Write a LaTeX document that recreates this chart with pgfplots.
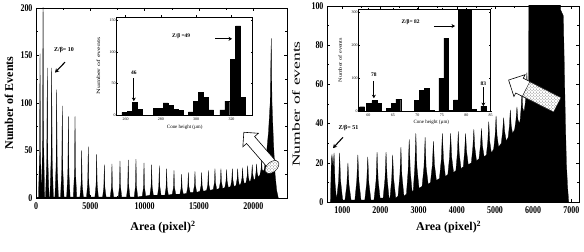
\documentclass[border=0pt]{standalone}
\usepackage{fontspec}
\setmainfont{Liberation Serif}
\usepackage{pgfplots}
\pgfplotsset{compat=1.18}
\usetikzlibrary{patterns,shapes.arrows,arrows.meta}
\begin{document}
\begin{tikzpicture}
\useasboundingbox (0bp,0bp) rectangle (584bp,252bp);
\pgfplotsset{
  main/.style={
    scale only axis, anchor=south west,
    axis line style={line width=0.8pt},
    every tick/.style={black, line width=0.6pt},
    major tick length=3bp, minor tick length=1.8bp,
    tick align=inside,
    /pgf/number format/assume math mode=true,
    /pgf/number format/1000 sep={},
    scaled ticks=false,
    ticklabel style={font=\bfseries\fontsize{8}{9}\selectfont, yscale=1.3},
    label style={font=\bfseries\fontsize{12}{14}\selectfont},
    minor x tick num=1, minor y tick num=1,
  },
  inset/.style={
    scale only axis, anchor=south west,
    axis background/.style={fill=white},
    axis line style={line width=0.5pt},
    every tick/.style={black, line width=0.4pt},
    major tick length=1.5bp, minor tick length=0.8bp,
    tick align=inside,
    /pgf/number format/assume math mode=true,
    ticklabel style={font=\fontsize{4}{5}\selectfont, inner sep=1pt},
    label style={font=\fontsize{5}{6}\selectfont},
    ybar, ymin=0,
  },
}
% ---------------- left main ----------------
\begin{axis}[main, at={(36bp,54bp)}, width=251bp, height=190bp,
  xmin=0, xmax=23100, ymin=0, ymax=200,
  xtick={0,5000,10000,15000,20000}, ytick={0,50,100,150,200},
  xlabel={Area (pixel)\textsuperscript{2}}, ylabel={Number of Events},
  xlabel style={at={(axis description cs:0.506,-0.153)}, anchor=center},
  ylabel style={at={(axis description cs:-0.108,0.5)}, anchor=center},
]
\addplot[fill=black, draw=black, line width=0.25pt] coordinates {
(0,0)(230,1)(325,46)(370,152)(415,46)(510,1)
(520,1)(605,65)(650,215)(695,65)(790,1)
(880,1)(990,41)(1040,137)(1090,41)(1200,1)
(1280,1)(1390,41)(1440,137)(1490,41)(1600,1)
(1740,1)(1850,34)(1900,114)(1950,34)(2060,1)
(2260,1)(2370,29)(2420,97)(2470,29)(2580,1)
(2820,1)(2930,26)(2980,86)(3030,26)(3140,1)
(3430,1)(3540,26)(3590,86)(3640,26)(3750,1)
(4040,1)(4150,15)(4200,50)(4250,15)(4360,1)
(4650,1)(4760,16)(4810,54)(4860,16)(4970,1)
(5420,1)(5530,14)(5580,46)(5630,14)(5740,1)
(6130,1)(6240,11)(6290,35)(6340,11)(6450,1)
(6830,1)(6940,11)(6990,36)(7040,11)(7150,1)
(7570,1)(7680,12)(7730,39)(7780,12)(7890,1)
(8330,1)(8440,12)(8490,40)(8540,12)(8650,1)
(9040,1)(9150,12)(9200,41)(9250,12)(9360,1)
(9780,2)(9890,11)(9940,37)(9990,11)(10100,2)
(10480,3)(10590,12)(10640,35)(10690,12)(10800,3)
(11190,3)(11300,12)(11350,34)(11400,12)(11510,3)
(11860,3)(11970,11)(12020,31)(12070,11)(12180,3)
(12540,4)(12650,11)(12700,29)(12750,11)(12860,4)
(13240,4)(13350,10)(13400,25)(13450,10)(13560,4)
(13860,5)(13970,12)(14020,27)(14070,12)(14180,6)
(14470,6)(14580,13)(14630,28)(14680,13)(14790,6)
(15080,7)(15190,13)(15240,27)(15290,13)(15400,7)
(15700,8)(15810,14)(15860,29)(15910,14)(16020,8)
(16310,9)(16420,16)(16470,31)(16520,16)(16630,9)
(16860,10)(16970,17)(17020,31)(17070,17)(17180,10)
(17380,11)(17490,18)(17540,30)(17590,18)(17700,11)
(17910,12)(18020,19)(18070,31)(18120,19)(18230,12)
(18400,13)(18510,20)(18560,31)(18610,20)(18720,13)
(18850,15)(18960,21)(19010,32)(19060,21)(19170,15)
(19320,16)(19430,23)(19480,34)(19530,23)(19640,17)
(19750,18)(19850,25)(19900,35)(19950,25)(20060,19)
(20160,20)(20250,27)(20300,36)(20350,27)(20450,22)
(20600,24)(20710,30)(20760,40)(20810,30)(20900,28)
(21000,30)(21200,45)(21400,70)(21550,100)(21650,168)(21720,100)(21850,60)(22000,25)(22150,8)(22300,0)
} \closedcycle;
\node[font=\bfseries\fontsize{6}{7}\selectfont] at (axis cs:2580,156) {Z/β= 10};
\draw[line width=1.1pt, -{Stealth[length=4bp,width=4.5bp]}] (axis cs:2670,143) -- (axis cs:1750,132);
\end{axis}
% ---------------- left inset ----------------
\begin{axis}[inset, at={(116.7bp,137bp)}, width=136bp, height=98bp,
  xmin=255, xmax=332, ymax=155, bar width=2.8,
  xtick={260,280,300,320}, ytick={0,50,100,150},
  xlabel={Cone height (µm)}, ylabel={Number of events},
  xlabel style={at={(axis description cs:0.5,-0.13)}, anchor=center},
  ylabel style={at={(axis description cs:-0.134,0.5)}, anchor=center, xscale=1.6},
]
\addplot[fill=black, draw=black] coordinates {
(259.4,4)(262.3,6)(265.1,20)(267.9,9)
(277.1,10)(279.9,11)(282.7,19)(285.5,15)(288.4,9)(291.2,7)
(297,5)(299.8,22)(302.6,36)(305.4,28)(308.5,8)
(314.8,8)(317.6,22)(320.7,88)(323.7,141)(326.5,28)
};
\node[font=\bfseries\fontsize{5.5}{6}\selectfont] at (axis cs:291.5,125) {Z/β =49};
\draw[line width=1pt, -{Stealth[length=3.5bp,width=4bp]}] (axis cs:310.7,120.5) -- (axis cs:320.3,120.5);
\node[font=\bfseries\fontsize{5.5}{6}\selectfont] at (axis cs:264.7,67) {46};
\draw[line width=1pt, -{Stealth[length=3.5bp,width=4bp]}] (axis cs:264.7,58) -- (axis cs:264.7,22);
\end{axis}
% ---------------- right main ----------------
\begin{axis}[main, at={(327bp,50bp)}, width=252bp, height=196bp,
  xmin=600, xmax=7200, ymin=0, ymax=100,
  xtick={1000,2000,3000,4000,5000,6000,7000}, ytick={0,20,40,60,80,100},
  xlabel={Area (pixel)\textsuperscript{2}}, ylabel={Number of events},
  xlabel style={at={(axis description cs:0.483,-0.128)}, anchor=center},
  ylabel style={at={(axis description cs:-0.123,0.5)}, anchor=center,
    font=\fontsize{11}{13}\selectfont, xscale=1.6},
]
\addplot[fill=black, draw=black, line width=0.25pt] coordinates {
(690,0)(715,22)(730,24)(760,18)(785,25)(810,10)(850,1)
(905,11)(930,25)(955,11)(1010,1)
(1070,1)(1120,9)(1148,20)(1175,9)(1230,1)
(1330,1)(1380,11)(1408,24)(1435,11)(1490,1)
(1590,1)(1640,10)(1668,23)(1695,10)(1750,1)
(1830,1)(1885,11)(1911,25.5)(1940,11)(1990,2)
(2070,2)(2120,12)(2146,25.5)(2175,12)(2225,2)
(2250,2)(2295,12)(2320,24)(2345,12)(2400,2)
(2460,3)(2510,14)(2536,28)(2560,14)(2615,3)
(2680,4)(2725,16)(2753,32)(2780,16)(2830,5)
(2860,6)(2900,18)(2927,35)(2955,18)(3010,7)
(3090,8)(3140,18)(3170,33)(3195,18)(3250,9)
(3310,10)(3360,19)(3387,31)(3415,19)(3465,11)
(3545,12)(3595,22)(3621,35)(3650,22)(3700,13)
(3765,14)(3810,23)(3838,35)(3865,23)(3915,15)
(3975,16)(4015,25)(4038,36)(4062,25)(4110,17)
(4170,18)(4205,26)(4229,35)(4255,26)(4300,19)
(4380,20)(4420,28)(4446,37)(4470,28)(4515,21)
(4580,22)(4620,29)(4646,37.5)(4670,29)(4715,23)
(4775,24)(4812,31)(4837,41)(4862,31)(4905,25)
(4965,27)(5003,34)(5028,44)(5053,34)(5095,28)
(5165,30)(5200,36)(5227,43)(5252,36)(5295,31)
(5345,33)(5378,39)(5401,47)(5425,39)(5460,35)
(5515,37)(5550,42)(5575,48.5)(5600,42)(5640,40)
(5660,42)(5685,48)(5705,58)(5725,48)(5760,46)
(5790,50)(5815,55)(5835,66)(5855,55)(5870,55)
(5880,60)(5890,130)(6700,130)(6720,98)(6790,95)(6810,75)(6840,45)(6870,20)(6900,8)(6930,0)
} \closedcycle;
\node[font=\bfseries\fontsize{6}{7}\selectfont] at (axis cs:1161,37.8) {Z/β= 51};
\draw[line width=1.1pt, -{Stealth[length=4bp,width=4.5bp]}] (axis cs:1018,33) -- (axis cs:757,27.5);
\end{axis}
% ---------------- right inset ----------------
\begin{axis}[inset, at={(358.7bp,141bp)}, width=132bp, height=101.7bp,
  xmin=58, xmax=85, ymax=310, bar width=1,
  xtick={60,65,70,75,80,85}, ytick={0,100,200,300},
  xlabel={Cone height (µm)}, ylabel={Number of events},
  xlabel style={at={(axis description cs:0.55,-0.11)}, anchor=center},
  ylabel style={at={(axis description cs:-0.14,0.5)}, anchor=center, xscale=1.25},
]
\addplot[fill=black, draw=black] coordinates {
(58.7,13)(60.1,24)(61.2,32)(62.2,24)
(64.2,8)(65.2,24)(66.1,36)
(69.9,32)(70.9,62)(71.9,69)(72.9,3)
(74.9,100)(75.9,222)(76.9,3)
(77.9,34)(78.9,400)(79.9,400)(80.6,400)(81.6,5)
(83.5,15)
};
\node[font=\bfseries\fontsize{5.5}{6}\selectfont] at (axis cs:68.6,271) {Z/β= 82};
\draw[line width=1pt, -{Stealth[length=3.5bp,width=4bp]}] (axis cs:73.4,259) -- (axis cs:77.7,259);
\node[font=\bfseries\fontsize{5.5}{6}\selectfont] at (axis cs:61.1,111) {78};
\draw[line width=1pt, -{Stealth[length=3.5bp,width=4bp]}] (axis cs:61.1,92) -- (axis cs:61.1,39);
\node[font=\bfseries\fontsize{5.5}{6}\selectfont] at (axis cs:83.5,82) {83};
\draw[line width=1pt, -{Stealth[length=3.5bp,width=4bp]}] (axis cs:83.5,72) -- (axis cs:83.5,15);
\end{axis}
% ---------------- hollow arrows ----------------
\node[single arrow, draw=black, fill=white, line width=0.6pt, minimum height=47bp,
  inner sep=5bp, single arrow head extend=5bp, rotate=131] at (261bp,100bp) {};
\draw[line width=0.4pt, fill=white, postaction={pattern=crosshatch dots, pattern color=gray!80!black}]
  (272bp,85bp) ellipse [x radius=5bp, y radius=8bp, rotate=131];
\node[single arrow, draw=black, fill=white, line width=0.6pt, minimum height=51bp,
  inner sep=8bp, single arrow head extend=4bp, rotate=153] at (535bp,158.5bp) {};
\node[rotate=153, minimum width=35bp, minimum height=16bp, inner sep=0pt, draw=black, line width=0.4pt,
  fill=white, postaction={pattern=crosshatch dots, pattern color=gray!80!black}] at (541.7bp,155.1bp) {};
\end{tikzpicture}
\end{document}
